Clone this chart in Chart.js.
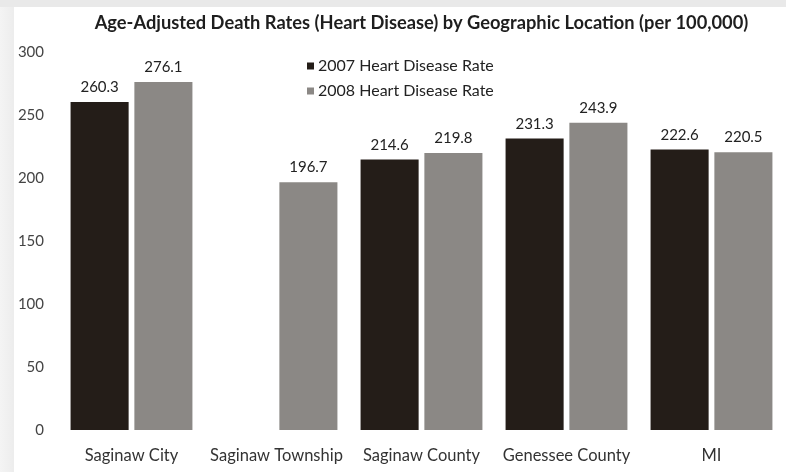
<!DOCTYPE html>
<html>
<head>
<meta charset="utf-8">
<script src="https://cdn.jsdelivr.net/npm/chart.js@4"></script>
<style>
html,body{margin:0;padding:0;background:#fff;}
#wrap{width:786px;height:472px;position:relative;}
</style>
</head>
<body>
<div id="wrap"><canvas id="c" width="786" height="472"></canvas></div>
<script>
const categories = ["Saginaw City", "Saginaw Township", "Saginaw County", "Genessee County", "MI"];
const rate2007 = [260.3, null, 214.6, 231.3, 222.6];
const rate2008 = [276.1, 196.7, 219.8, 243.9, 220.5];
const seriesLabels = ["2007 Heart Disease Rate", "2008 Heart Disease Rate"];
const yTicks = [0, 50, 100, 150, 200, 250, 300];
const titleText = "Age-Adjusted Death Rates (Heart Disease) by Geographic Location (per 100,000)";

const FONT = "Lato, 'Open Sans', sans-serif";
const colors = ["#241d18", "#8b8885"];

const bgPlugin = {
  id: 'bg',
  beforeDraw(chart) {
    const ctx = chart.ctx;
    ctx.save();
    ctx.fillStyle = '#ffffff';
    ctx.fillRect(0, 0, chart.width, chart.height);
    const g = ctx.createLinearGradient(0, 0, 15, 0);
    g.addColorStop(0, '#f4f4f4');
    g.addColorStop(1, '#ececec');
    ctx.fillStyle = g;
    ctx.fillRect(0, 0, 14, chart.height);
    ctx.fillStyle = '#e9e9e9';
    ctx.fillRect(0, 0, chart.width, 7);
    ctx.restore();
  }
};

const valueLabels = {
  id: 'valueLabels',
  afterDatasetsDraw(chart) {
    const ctx = chart.ctx;
    ctx.save();
    ctx.font = "15px " + FONT;
    ctx.fillStyle = '#222';
    ctx.textAlign = 'center';
    ctx.textBaseline = 'bottom';
    chart.data.datasets.forEach((ds, i) => {
      const meta = chart.getDatasetMeta(i);
      meta.data.forEach((bar, j) => {
        const v = ds.data[j];
        if (v === null || v === undefined) return;
        ctx.fillText(v.toFixed(1), bar.x, bar.y - 7);
      });
    });
    ctx.restore();
  }
};

const innerLegend = {
  id: 'innerLegend',
  afterDraw(chart) {
    const ctx = chart.ctx;
    ctx.save();
    ctx.font = "16px " + FONT;
    ctx.textBaseline = 'middle';
    ctx.textAlign = 'left';
    const x0 = 307, ys = [66, 91];
    chart.data.datasets.forEach((ds, i) => {
      ctx.fillStyle = ds.backgroundColor;
      ctx.fillRect(x0, ys[i] - 3.5, 7, 7);
      ctx.fillStyle = '#222';
      ctx.fillText(ds.label, x0 + 11, ys[i]);
    });
    ctx.restore();
  }
};

new Chart(document.getElementById('c'), {
  type: 'bar',
  data: {
    labels: categories,
    datasets: [
      { label: seriesLabels[0], data: rate2007, backgroundColor: colors[0] },
      { label: seriesLabels[1], data: rate2008, backgroundColor: colors[1] }
    ]
  },
  options: {
    responsive: false,
    animation: false,
    devicePixelRatio: 1,
    layout: { padding: { left: 0, right: 2, top: 0, bottom: 0 } },
    datasets: { bar: { categoryPercentage: 0.88, barPercentage: 0.91 } },
    plugins: {
      legend: { display: false },
      tooltip: { enabled: false },
      title: {
        display: true,
        text: titleText,
        fullSize: false,
        color: '#1e1e1e',
        font: { family: FONT, size: 18.3, weight: 'bold' },
        padding: { top: 12, bottom: 18 }
      }
    },
    scales: {
      x: {
        grid: { display: false, drawTicks: false },
        border: { display: false },
        ticks: { color: '#333', font: { family: FONT, size: 16.5 }, padding: 16, maxRotation: 0, autoSkip: false },
        afterFit(s) { s.height = 42; }
      },
      y: {
        min: 0, max: 300,
        grid: { display: false, drawTicks: false },
        border: { display: false },
        afterBuildTicks(s) { s.ticks = yTicks.map(v => ({ value: v })); },
        ticks: { color: '#444', font: { family: FONT, size: 15 }, padding: 15, },
        afterFit(s) { s.width = 59; }
      }
    }
  },
  plugins: [bgPlugin, valueLabels, innerLegend]
});
</script>
</body>
</html>
